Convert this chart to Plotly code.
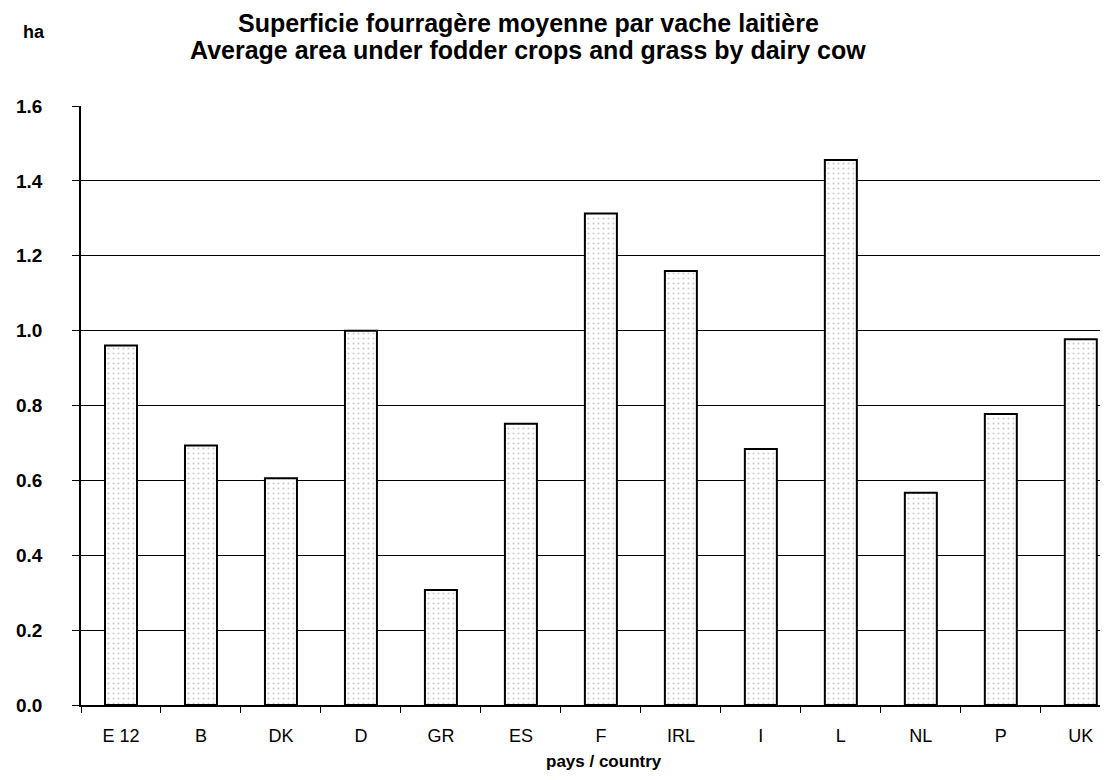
import plotly.graph_objects as go

countries = ["E 12", "B", "DK", "D", "GR", "ES", "F", "IRL", "I", "L", "NL", "P", "UK"]
area_per_cow = [0.96, 0.693, 0.606, 1.00, 0.307, 0.751, 1.313, 1.159, 0.684, 1.456, 0.567, 0.777, 0.977]
y_ticks = [0.0, 0.2, 0.4, 0.6, 0.8, 1.0, 1.2, 1.4, 1.6]
grid_vals = [0.2, 0.4, 0.6, 0.8, 1.0, 1.2, 1.4]

title_fr = "Superficie fourragère moyenne par vache laitière"
title_en = "Average area under fodder crops and grass by dairy cow"
unit_label = "ha"
x_label = "pays / country"

FONT = "Liberation Sans, Arial, sans-serif"

fig = go.Figure()
fig.add_trace(go.Bar(
    x=countries,
    y=area_per_cow,
    width=0.4,
    marker=dict(
        color="white",
        line=dict(color="black", width=2),
        pattern=dict(shape=".", fgcolor="#9a9a9a", bgcolor="white", size=5, solidity=0.15),
    ),
    showlegend=False,
))

fig.update_layout(
    width=1108, height=780,
    margin=dict(l=73, r=0, t=98, b=83),
    paper_bgcolor="white", plot_bgcolor="white",
    font=dict(family=FONT, color="black"),
    bargap=0.5,
    xaxis=dict(
        type="category",
        range=[-0.5, 12.44],
        showline=True, linecolor="black", linewidth=1.5,
        ticks="outside", tickson="boundaries", ticklen=6, tickcolor="black", tickwidth=1,
        showgrid=False,
        tickfont=dict(size=18, family=FONT),
        ticklabelstandoff=14,
    ),
    yaxis=dict(
        range=[0, 1.6],
        tickvals=y_ticks,
        ticktext=[f"{v:.1f}" for v in y_ticks],
        showline=True, linecolor="black", linewidth=1.5,
        ticks="outside", ticklen=7, tickcolor="black", tickwidth=1,
        showgrid=False, zeroline=False,
        tickfont=dict(size=19, family=FONT, weight="bold"),
        ticklabelstandoff=26,
    ),
    yaxis2=dict(
        overlaying="y", matches="y", range=[0, 1.6],
        tickvals=grid_vals, showticklabels=False, ticks="",
        showgrid=True, gridcolor="black", gridwidth=1,
        showline=False, zeroline=False,
    ),
)

# invisible helper trace that activates the grid axis
fig.add_trace(go.Scatter(x=[countries[0]], y=[0], yaxis="y2", mode="markers",
                         marker=dict(opacity=0), showlegend=False, hoverinfo="skip"))

fig.add_annotation(text=unit_label, xref="paper", yref="paper", x=-0.058, y=1.124,
                   xanchor="left", yanchor="middle", showarrow=False,
                   font=dict(size=18, family=FONT, weight="bold"))
fig.add_annotation(text=title_fr, xref="paper", yref="paper", x=0.432, y=1.139,
                   xanchor="center", yanchor="middle", showarrow=False,
                   font=dict(size=25, family=FONT, weight="bold"))
fig.add_annotation(text=title_en, xref="paper", yref="paper", x=0.432, y=1.094,
                   xanchor="center", yanchor="middle", showarrow=False,
                   font=dict(size=25, family=FONT, weight="bold"))
fig.add_annotation(text=x_label, xref="paper", yref="paper", x=0.505, y=-0.095,
                   xanchor="center", yanchor="middle", showarrow=False,
                   font=dict(size=17, family=FONT, weight="bold"))

fig.write_html("out.html")
